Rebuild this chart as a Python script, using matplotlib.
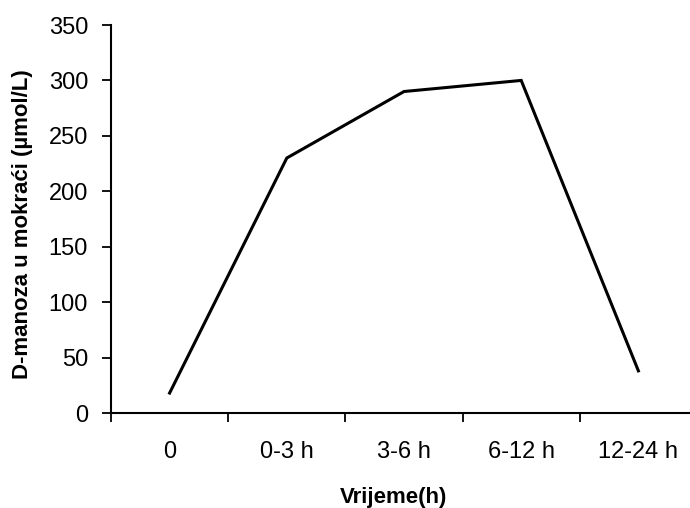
import numpy as np
import matplotlib.pyplot as plt

# Data
categories = ['0', '0-3 h', '3-6 h', '6-12 h', '12-24 h']
d_mannose = [18, 230, 290, 300, 38]
y_ticks = [0, 50, 100, 150, 200, 250, 300, 350]

plt.rcParams['font.family'] = ['Liberation Sans', 'DejaVu Sans']

fig = plt.figure(figsize=(6.9, 5.08), dpi=100)
# axis runs slightly past the right edge, like the cropped original
ax = fig.add_axes([111 / 690, 95 / 508, 586 / 690, 388 / 508])

positions = np.arange(len(categories))
ax.plot(positions, d_mannose, color='black', lw=2.2, solid_joinstyle='miter')

ax.set_xlim(-0.5, len(categories) - 0.5)
ax.set_ylim(0, 350)
ax.set_yticks(y_ticks)

# category labels sit between the ticks (Excel style)
ax.set_xticks(np.arange(-0.5, len(categories)), minor=False)
ax.set_xticklabels([])
ax.set_xticks(positions, minor=True)
ax.set_xticklabels(categories, minor=True)
ax.tick_params(axis='x', which='minor', length=0, pad=20, labelsize=17)
ax.tick_params(axis='x', which='major', length=6.5, width=1.3, direction='out')
ax.tick_params(axis='y', length=6.5, width=1.3, direction='out', pad=10, labelsize=17)

for side in ['top', 'right']:
    ax.spines[side].set_visible(False)
for side in ['left', 'bottom']:
    ax.spines[side].set_linewidth(1.5)

fig.text(23 / 690, 1 - 224 / 508, 'D-manoza u mokraći (µmol/L)', rotation=90,
         ha='center', va='center', fontsize=16, fontweight='bold')
fig.text(394 / 690, 1 - 497 / 508, 'Vrijeme(h)', ha='center', va='center',
         fontsize=16, fontweight='bold')

fig.savefig('out.png', dpi=100)
